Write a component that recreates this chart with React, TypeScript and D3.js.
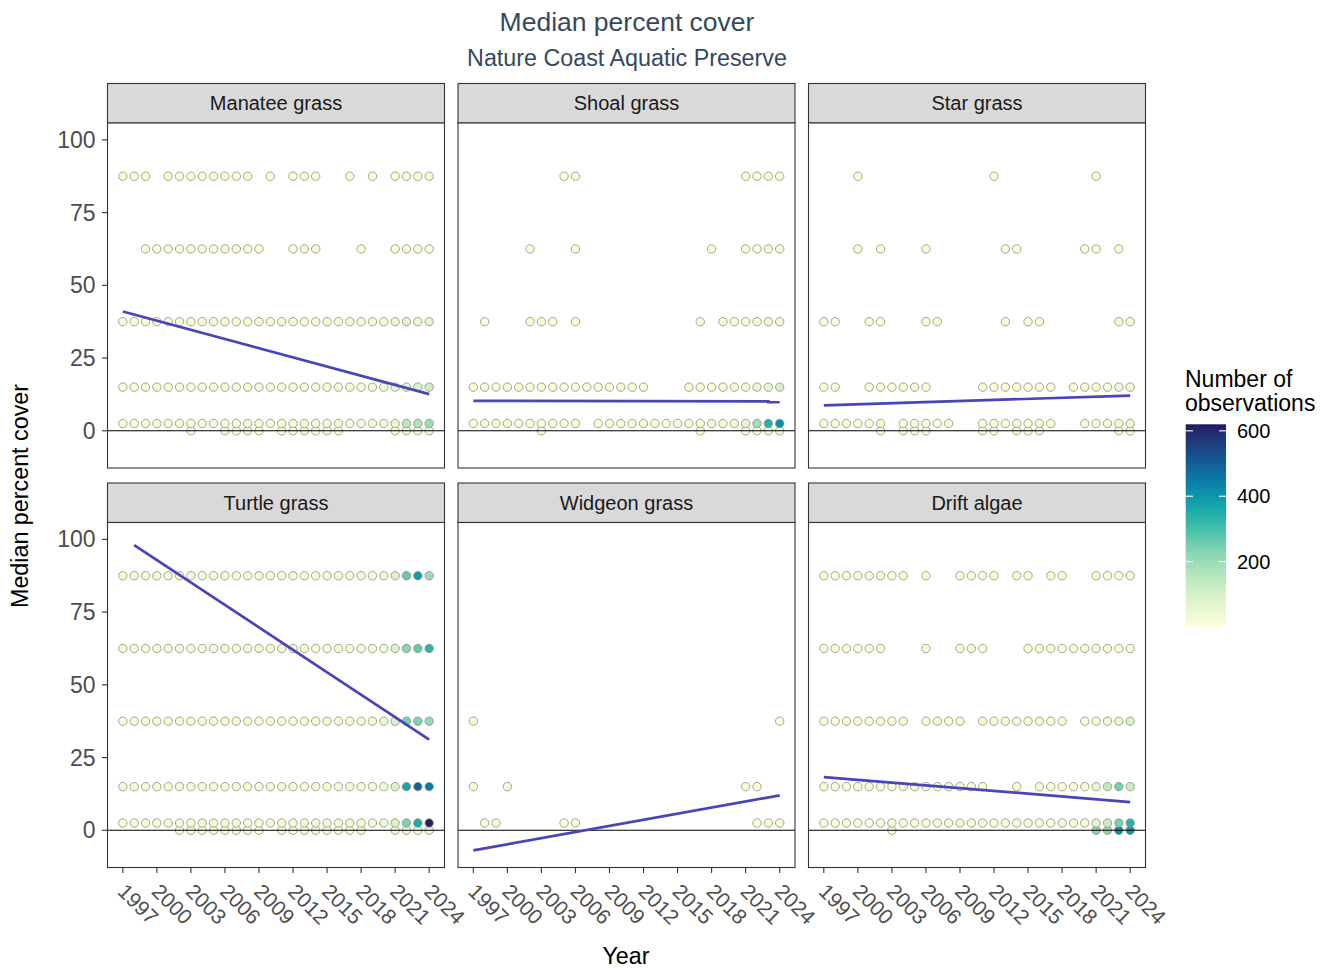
import React from "react";
import * as d3 from "d3";

// ---------------- DATA ----------------
const allYears = [1997, 1998, 1999, 2000, 2001, 2002, 2003, 2004, 2005, 2006, 2007, 2008, 2009, 2010, 2011, 2012, 2013, 2014, 2015, 2016, 2017, 2018, 2019, 2020, 2021, 2022, 2023, 2024];
const xTickYears = [1997, 2000, 2003, 2006, 2009, 2012, 2015, 2018, 2021, 2024];
const yTickValues = [0, 25, 50, 75, 100];
const legendTicks = [200, 400, 600];
const speciesNames = ["Manatee grass", "Shoal grass", "Star grass", "Turtle grass", "Widgeon grass", "Drift algae"];

// [cover, years, counts]
type Level = [number, number[], number[]];

const manateeLevels: Level[] = [
  [0, [2003, 2006, 2007, 2008, 2009, 2011, 2012, 2013, 2014, 2015, 2016, 2021, 2022, 2023, 2024], [3, 4, 4, 5, 4, 5, 6, 5, 6, 7, 6, 15, 25, 30, 30]],
  [2.5, allYears, [10, 12, 12, 12, 14, 12, 14, 15, 14, 15, 15, 16, 15, 16, 18, 18, 18, 18, 20, 20, 20, 22, 25, 30, 60, 150, 170, 200]],
  [15, allYears, [10, 10, 12, 12, 12, 12, 12, 14, 14, 14, 14, 15, 15, 15, 15, 16, 16, 16, 16, 18, 18, 18, 20, 22, 40, 60, 80, 110]],
  [37.5, allYears, [10, 10, 10, 12, 12, 12, 12, 12, 12, 12, 12, 12, 14, 14, 14, 14, 14, 14, 14, 14, 15, 15, 16, 18, 30, 70, 50, 60]],
  [62.5, [1999, 2000, 2001, 2002, 2003, 2004, 2005, 2006, 2007, 2008, 2009, 2012, 2013, 2014, 2018, 2021, 2022, 2023, 2024], [4, 4, 5, 5, 5, 5, 5, 5, 5, 5, 5, 5, 5, 5, 4, 6, 8, 8, 8]],
  [87.5, [1997, 1998, 1999, 2001, 2002, 2003, 2004, 2005, 2006, 2007, 2008, 2010, 2012, 2013, 2014, 2017, 2019, 2021, 2022, 2023, 2024], [4, 4, 4, 4, 4, 4, 4, 4, 4, 4, 4, 3, 4, 4, 4, 3, 3, 6, 8, 8, 8]],
];

const shoalLevels: Level[] = [
  [0, [2003, 2017, 2021, 2022, 2023, 2024], [3, 3, 10, 15, 20, 20]],
  [2.5, [1997, 1998, 1999, 2000, 2001, 2002, 2003, 2004, 2005, 2006, 2008, 2009, 2010, 2011, 2012, 2013, 2014, 2015, 2016, 2017, 2018, 2019, 2020, 2021, 2022, 2023, 2024], [8, 8, 8, 8, 8, 8, 8, 8, 8, 8, 8, 8, 8, 8, 8, 8, 10, 10, 12, 12, 14, 16, 30, 60, 190, 340, 410]],
  [15, [1997, 1998, 1999, 2000, 2001, 2002, 2003, 2004, 2005, 2006, 2007, 2008, 2009, 2010, 2011, 2012, 2016, 2017, 2018, 2019, 2020, 2021, 2022, 2023, 2024], [6, 6, 6, 6, 6, 6, 6, 6, 6, 6, 6, 6, 6, 6, 6, 6, 8, 8, 10, 12, 14, 25, 50, 60, 100]],
  [37.5, [1998, 2002, 2003, 2004, 2006, 2017, 2019, 2020, 2021, 2022, 2023, 2024], [3, 3, 3, 3, 3, 4, 5, 6, 10, 15, 40, 20]],
  [62.5, [2002, 2006, 2018, 2021, 2022, 2023, 2024], [2, 2, 3, 5, 6, 8, 8]],
  [87.5, [2005, 2006, 2021, 2022, 2023, 2024], [2, 2, 4, 5, 6, 6]],
];

const starLevels: Level[] = [
  [0, [2002, 2004, 2005, 2006, 2011, 2012, 2014, 2015, 2016, 2023, 2024], [3, 3, 3, 3, 3, 3, 3, 3, 3, 8, 8]],
  [2.5, [1997, 1998, 1999, 2000, 2001, 2002, 2004, 2005, 2006, 2007, 2008, 2011, 2012, 2013, 2014, 2015, 2016, 2017, 2020, 2021, 2022, 2023, 2024], [5, 5, 5, 5, 5, 5, 5, 5, 5, 5, 5, 5, 5, 5, 5, 5, 5, 5, 6, 8, 12, 40, 40]],
  [15, [1997, 1998, 2001, 2002, 2003, 2004, 2005, 2006, 2011, 2012, 2013, 2014, 2015, 2016, 2017, 2019, 2020, 2021, 2022, 2023, 2024], [4, 4, 4, 4, 4, 4, 4, 4, 4, 4, 4, 4, 4, 4, 4, 5, 6, 8, 10, 40, 15]],
  [37.5, [1997, 1998, 2001, 2002, 2006, 2007, 2013, 2015, 2016, 2023, 2024], [3, 3, 3, 3, 3, 3, 3, 3, 3, 30, 12]],
  [62.5, [2000, 2002, 2006, 2013, 2014, 2020, 2021, 2023], [2, 2, 2, 2, 2, 3, 3, 4]],
  [87.5, [2000, 2012, 2021], [2, 2, 3]],
];

const turtleLevels: Level[] = [
  [0, [2002, 2003, 2004, 2005, 2006, 2007, 2008, 2009, 2011, 2012, 2013, 2014, 2015, 2016, 2017, 2018, 2021, 2022, 2023, 2024], [5, 5, 5, 5, 5, 5, 5, 5, 5, 5, 5, 5, 5, 5, 5, 5, 20, 30, 30, 30]],
  [2.5, allYears, [15, 15, 15, 15, 15, 18, 18, 18, 18, 22, 22, 20, 20, 20, 20, 20, 20, 20, 20, 20, 20, 22, 22, 30, 90, 240, 360, 615]],
  [15, allYears, [15, 15, 15, 15, 15, 15, 15, 15, 15, 15, 15, 15, 15, 15, 15, 15, 15, 15, 15, 15, 15, 18, 20, 30, 90, 370, 490, 450]],
  [37.5, allYears, [15, 15, 15, 15, 15, 25, 15, 15, 15, 15, 15, 15, 15, 15, 15, 15, 15, 15, 15, 15, 15, 18, 20, 30, 90, 250, 240, 210]],
  [62.5, allYears, [15, 15, 15, 15, 15, 15, 15, 15, 15, 25, 15, 15, 15, 15, 15, 15, 15, 15, 15, 15, 15, 18, 20, 30, 90, 230, 270, 340]],
  [87.5, allYears, [15, 15, 15, 15, 15, 15, 15, 15, 15, 15, 15, 15, 15, 15, 15, 15, 15, 15, 15, 15, 15, 18, 20, 30, 90, 270, 390, 200]],
];

const widgeonLevels: Level[] = [
  [2.5, [1998, 1999, 2005, 2006, 2022, 2023, 2024], [2, 2, 2, 2, 3, 3, 3]],
  [15, [1997, 2000, 2021, 2022], [2, 2, 2, 2]],
  [37.5, [1997, 2024], [1, 1]],
];

const driftLevels: Level[] = [
  [0, [2003, 2021, 2022, 2023, 2024], [5, 230, 225, 420, 400]],
  [2.5, allYears, [10, 10, 10, 10, 10, 10, 12, 12, 12, 12, 12, 12, 12, 12, 12, 12, 12, 12, 14, 14, 14, 16, 18, 25, 70, 130, 250, 340]],
  [15, [1997, 1998, 1999, 2000, 2001, 2002, 2003, 2004, 2005, 2006, 2007, 2008, 2009, 2010, 2011, 2014, 2016, 2017, 2018, 2019, 2020, 2021, 2022, 2023, 2024], [8, 8, 8, 8, 8, 8, 8, 8, 8, 8, 8, 8, 8, 8, 8, 8, 8, 8, 10, 12, 14, 50, 140, 250, 130]],
  [37.5, [1997, 1998, 1999, 2000, 2001, 2002, 2003, 2004, 2006, 2007, 2008, 2009, 2011, 2012, 2013, 2014, 2015, 2016, 2017, 2018, 2020, 2021, 2022, 2023, 2024], [6, 6, 6, 6, 6, 6, 6, 6, 6, 6, 6, 6, 6, 6, 6, 6, 6, 6, 6, 6, 10, 15, 30, 60, 90]],
  [62.5, [1997, 1998, 1999, 2000, 2001, 2002, 2006, 2009, 2010, 2011, 2015, 2016, 2017, 2018, 2019, 2020, 2021, 2022, 2023, 2024], [4, 4, 4, 4, 4, 4, 4, 4, 4, 4, 4, 4, 4, 4, 4, 5, 6, 8, 10, 10]],
  [87.5, [1997, 1998, 1999, 2000, 2001, 2002, 2003, 2004, 2006, 2009, 2010, 2011, 2012, 2014, 2015, 2017, 2018, 2021, 2022, 2023, 2024], [4, 4, 4, 4, 4, 4, 4, 4, 4, 4, 4, 4, 4, 4, 4, 4, 4, 6, 8, 8, 8]],
];

// trend lines: [year, value]
const manateeTrend = [[1997, 41.0], [2024, 12.6]];
const shoalTrend = [[1997, 10.3], [2023, 10.1], [2023, 9.8], [2024, 9.8]];
const starTrend = [[1997, 8.7], [2024, 12.1]];
const turtleTrend = [[1998, 98.0], [2024, 31.2]];
const widgeonTrend = [[1997, -6.9], [2024, 12.0]];
const driftTrend = [[1997, 18.3], [2024, 9.7]];

const allLevels = [manateeLevels, shoalLevels, starLevels, turtleLevels, widgeonLevels, driftLevels];
const allTrends = [manateeTrend, shoalTrend, starTrend, turtleTrend, widgeonTrend, driftTrend];

// colour stops for count scale
const colorStopValues = [0, 60, 120, 180, 240, 300, 360, 420, 480, 540, 600, 620];
const colorStopColors = ["#fbfedb", "#e6f6d2", "#cdedc4", "#a9e0ba", "#7ed2b2", "#45c0aa", "#17aaab", "#0a8baa", "#0e6a9e", "#1a4886", "#242b6c", "#26185f"];

// ---------------- LAYOUT ----------------
const FONT = "'Liberation Sans', Arial, sans-serif";
const panelLefts = [107.5, 458, 808.5];
const panelW = 337;
const stripTops = [83.5, 483];
const stripH = 39.5;
const panelH = 345;
const TITLE_COLOR = "#34495e";

export default function App() {
  const x = d3.scaleLinear().domain([1995.65, 2025.35]).range([0, panelW]);
  const y = d3.scaleLinear().domain([-12.8, 105.8]).range([panelH, 0]);
  const color = d3.scaleLinear<string>().domain(colorStopValues).range(colorStopColors).interpolate(d3.interpolateRgb).clamp(true);
  const line = d3.line<number[]>().x((d) => x(d[0])).y((d) => y(d[1]));

  const legY = d3.scaleLinear().domain([1, 620]).range([626.7, 424.3]);
  const gradStops = d3.range(0, 1.0001, 0.05).map((t) => ({ t, c: color(1 + t * 619) }));

  const panels = speciesNames.map((name, i) => {
    const col = i % 3;
    const row = Math.floor(i / 3);
    const left = panelLefts[col];
    const sTop = stripTops[row];
    const pTop = sTop + stripH;
    return (
      <g key={name}>
        <rect x={left} y={sTop} width={panelW} height={stripH} fill="#d9d9d9" stroke="#333" strokeWidth={1.1} />
        <text x={left + panelW / 2} y={sTop + stripH / 2} textAnchor="middle" dominantBaseline="central" fontSize={20} fill="#1a1a1a">{name}</text>
        <g transform={`translate(${left},${pTop})`}>
          <rect x={0} y={0} width={panelW} height={panelH} fill="#fff" />
          {allLevels[i].map(([cover, years, counts]) => (
            <g key={cover}>
              {years.map((yr, k) => (
                <circle key={yr} cx={x(yr)} cy={y(cover)} r={4.2} fill={color(counts[k])} stroke="#93937c" strokeWidth={0.85} />
              ))}
            </g>
          ))}
          <line x1={0} x2={panelW} y1={y(0)} y2={y(0)} stroke="#000" strokeWidth={1.1} />
          <path d={line(allTrends[i] as number[][]) || ""} fill="none" stroke="#4845b9" strokeWidth={2.7} />
          <rect x={0} y={0} width={panelW} height={panelH} fill="none" stroke="#333" strokeWidth={1.1} />
          {col === 0 && yTickValues.map((v) => (
            <g key={v}>
              <line x1={-5.5} x2={0} y1={y(v)} y2={y(v)} stroke="#333" strokeWidth={1.1} />
              <text x={-12} y={y(v)} textAnchor="end" dominantBaseline="central" fontSize={23} fill="#4d4d4d">{v}</text>
            </g>
          ))}
          {row === 1 && xTickYears.map((yr) => (
            <g key={yr}>
              <line x1={x(yr)} x2={x(yr)} y1={panelH} y2={panelH + 5.5} stroke="#333" strokeWidth={1.1} />
              <text transform={`translate(${x(yr) - 1},${panelH + 20}) rotate(45)`} textAnchor="start" dominantBaseline="central" fontSize={21} fill="#4d4d4d">{yr}</text>
            </g>
          ))}
        </g>
      </g>
    );
  });

  return (
    <svg width={1330} height={973} style={{ position: "absolute", left: 0, top: 0 }} fontFamily={FONT}>
      <rect width={1330} height={973} fill="#fff" />
      <defs>
        <linearGradient id="cbar" x1="0" y1="1" x2="0" y2="0">
          {gradStops.map((s) => (
            <stop key={s.t} offset={`${s.t * 100}%`} stopColor={s.c} />
          ))}
        </linearGradient>
      </defs>
      <text x={627} y={31} textAnchor="middle" fontSize={26.5} fill={TITLE_COLOR}>Median percent cover</text>
      <text x={627} y={66} textAnchor="middle" fontSize={23.3} fill={TITLE_COLOR}>Nature Coast Aquatic Preserve</text>
      {panels}
      <text transform={`translate(28,496) rotate(-90)`} textAnchor="middle" fontSize={23.3} fill="#000">Median percent cover</text>
      <text x={626} y={964} textAnchor="middle" fontSize={23.3} fill="#000">Year</text>
      <g>
        <text x={1185} y={387} fontSize={23} fill="#000">Number of</text>
        <text x={1185} y={411} fontSize={23} fill="#000">observations</text>
        <rect x={1185.7} y={legY(620)} width={40.3} height={legY(1) - legY(620)} fill="url(#cbar)" />
        {legendTicks.map((v) => (
          <g key={v}>
            <line x1={1185.7} x2={1193} y1={legY(v)} y2={legY(v)} stroke="#fff" strokeWidth={1.1} />
            <line x1={1219} x2={1226} y1={legY(v)} y2={legY(v)} stroke="#fff" strokeWidth={1.1} />
            <text x={1237} y={legY(v)} dominantBaseline="central" fontSize={20} fill="#000">{v}</text>
          </g>
        ))}
      </g>
    </svg>
  );
}
